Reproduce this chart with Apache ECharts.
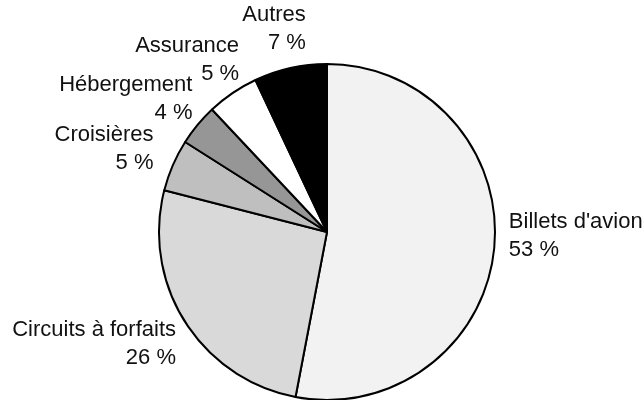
<!DOCTYPE html>
<html>
<head>
<meta charset="utf-8">
<script src="https://cdn.jsdelivr.net/npm/echarts@6/dist/echarts.min.js"></script>
<style>html,body{margin:0;padding:0;background:#fff}#c{width:644px;height:400px}</style>
</head>
<body>
<div id="c"></div>
<script>
const categories = ["Billets d'avion", "Circuits à forfaits", "Croisières", "Hébergement", "Assurance", "Autres"];
const values = [53, 26, 5, 4, 5, 7];
const colors = ["#f2f2f2", "#d9d9d9", "#bfbfbf", "#969696", "#ffffff", "#000000"];

const CX = 327, CY = 232, R = 168;
const LX = CX - 5, DX = 188, DY = 187;
const total = values.reduce((a, b) => a + b, 0);

const chart = echarts.init(document.getElementById('c'), null, {renderer: 'canvas'});
chart.setOption({
  animation: false,
  backgroundColor: '#ffffff',
  series: [{
    type: 'pie',
    center: [CX, CY],
    radius: R,
    startAngle: 90,
    clockwise: true,
    avoidLabelOverlap: false,
    data: categories.map((n, i) => ({name: n, value: values[i], itemStyle: {color: colors[i]}})),
    itemStyle: {borderColor: '#000', borderWidth: 2},
    label: {
      show: true,
      position: 'outside',
      formatter: p => p.name + '\n' + Math.round(p.percent) + ' %',
      fontFamily: 'Liberation Sans, Arial, sans-serif',
      fontSize: 22,
      lineHeight: 28,
      color: '#111'
    },
    labelLine: {show: false},
    emphasis: {disabled: true},
    labelLayout: function (p) {
      const i = p.dataIndex;
      let before = 0;
      for (let k = 0; k < i; k++) before += values[k];
      const mid = (before + values[i] / 2) / total * 2 * Math.PI;
      const s = Math.sin(mid), c = Math.cos(mid);
      const hw = p.labelRect.width / 2, hh = p.labelRect.height * 0.385;
      const bx = LX + s * (DX + hw);
      const by = Math.abs(c) < 0.2 ? CY + 4 : CY - c * (DY + hh);
      return s < 0
        ? {x: bx + hw, y: by, align: 'right', verticalAlign: 'middle'}
        : {x: bx - hw, y: by, align: 'left', verticalAlign: 'middle'};
    }
  }]
});
</script>
</body>
</html>
